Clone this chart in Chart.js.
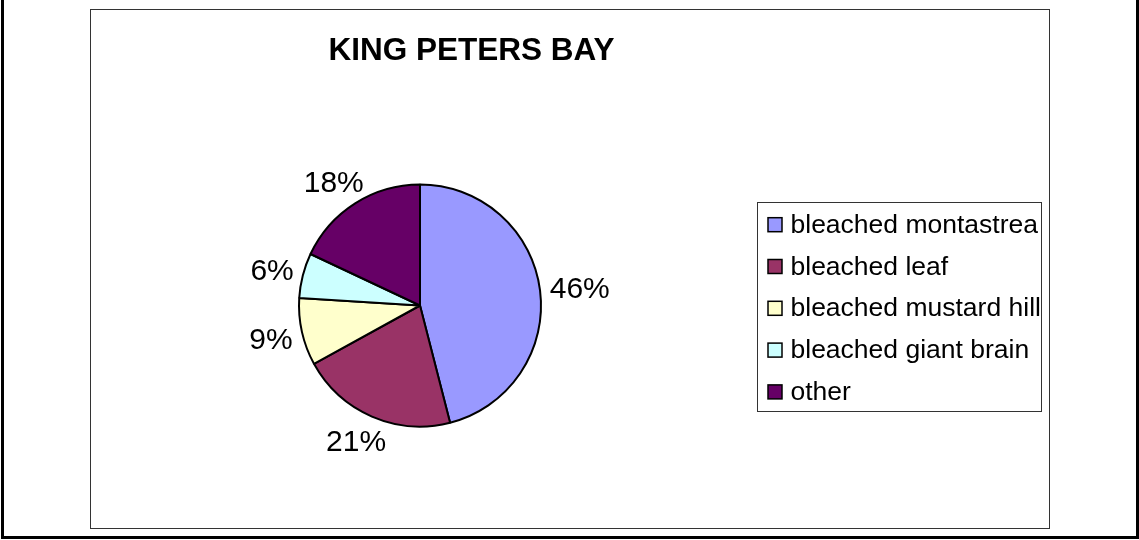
<!DOCTYPE html>
<html>
<head>
<meta charset="utf-8">
<script src="https://cdn.jsdelivr.net/npm/chart.js@4/dist/chart.umd.min.js"></script>
<style>
  body { margin: 0; background: #fff; }
  canvas { display: block; }
</style>
</head>
<body>
<canvas id="myChart" width="1139" height="540"></canvas>
<script>
// chart values
const chartTitle = 'KING PETERS BAY';
const categories = ['bleached montastrea', 'bleached leaf', 'bleached mustard hill', 'bleached giant brain', 'other'];
const percents = [46, 21, 9, 6, 18];
const sliceColors = ['#9999FF', '#993366', '#FFFFCC', '#CCFFFF', '#660066'];

const FONT = '"Liberation Sans", Arial, sans-serif';

// frame + plot box + title
const framePlugin = {
  id: 'frame',
  beforeDraw(chart) {
    const ctx = chart.ctx;
    ctx.save();
    ctx.fillStyle = '#fff';
    ctx.fillRect(0, 0, chart.width, chart.height);
    // outer border
    ctx.strokeStyle = '#000';
    ctx.lineWidth = 3;
    ctx.strokeRect(2.5, -3, 1135, 540.5);
    // inner chart box
    ctx.lineWidth = 1;
    ctx.strokeStyle = '#333';
    ctx.strokeRect(90.5, 9.5, 959, 519);
    // title
    ctx.fillStyle = '#000';
    ctx.font = 'bold 31.5px ' + FONT;
    ctx.textAlign = 'center';
    ctx.textBaseline = 'alphabetic';
    ctx.fillText(chartTitle, 471.5, 60);
    ctx.restore();
  }
};

// percent labels outside each slice
const outsideLabels = {
  id: 'outsideLabels',
  afterDatasetsDraw(chart) {
    const ctx = chart.ctx;
    const meta = chart.getDatasetMeta(0);
    ctx.save();
    ctx.font = '30px ' + FONT;
    ctx.fillStyle = '#000';
    ctx.textAlign = 'center';
    ctx.textBaseline = 'alphabetic';
    meta.data.forEach((arc, i) => {
      const txt = chart.data.datasets[0].data[i] + '%';
      const mid = (arc.startAngle + arc.endAngle) / 2;
      const dx = Math.cos(mid), dy = Math.sin(mid);
      const halfW = ctx.measureText(txt).width / 2;
      const halfH = 16;
      const r = arc.outerRadius + 10;
      const cx = arc.x + r * dx + dx * halfW;
      const cy = arc.y + r * dy + dy * halfH;
      ctx.fillText(txt, cx, cy + 11);
    });
    ctx.restore();
  }
};

// boxed legend on the right
const boxLegend = {
  id: 'boxLegend',
  afterDraw(chart) {
    const ctx = chart.ctx;
    const ds = chart.data.datasets[0];
    ctx.save();
    ctx.strokeStyle = '#333';
    ctx.lineWidth = 1;
    ctx.strokeRect(757.5, 202.5, 284, 209);
    ctx.font = '26.5px ' + FONT;
    ctx.textBaseline = 'alphabetic';
    ctx.textAlign = 'left';
    chart.data.labels.forEach((lab, i) => {
      const base = 232.7 + i * 41.8;
      ctx.fillStyle = ds.backgroundColor[i];
      ctx.fillRect(768, base - 15, 14, 14);
      ctx.lineWidth = 1.5;
      ctx.strokeStyle = '#000';
      ctx.strokeRect(768, base - 15, 14, 14);
      ctx.fillStyle = '#000';
      ctx.fillText(lab, 790.5, base);
    });
    ctx.restore();
  }
};

const ctx = document.getElementById('myChart').getContext('2d');
const myChart = new Chart(ctx, {
  type: 'pie',
  data: {
    labels: categories,
    datasets: [{
      data: percents,
      backgroundColor: sliceColors,
      borderColor: '#000',
      borderWidth: 2,
      borderAlign: 'center'
    }]
  },
  options: {
    responsive: false,
    animation: false,
    devicePixelRatio: 1,
    layout: {
      padding: { left: 298, right: 597, top: 183.5, bottom: 112.5 }
    },
    plugins: {
      legend: { display: false },
      title: { display: false },
      tooltip: { enabled: false }
    }
  },
  plugins: [framePlugin, outsideLabels, boxLegend]
});
</script>
</body>
</html>
